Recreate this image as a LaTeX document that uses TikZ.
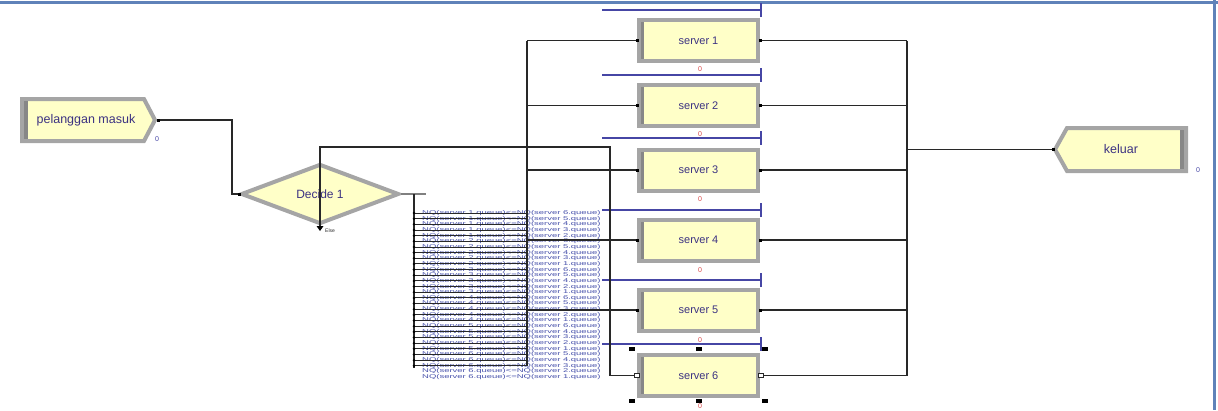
\documentclass[tikz,border=0pt]{standalone}
\usepackage{fontspec}
\setmainfont{Liberation Sans}
\usepackage{graphicx}
\usetikzlibrary{shapes.geometric}
\definecolor{modfill}{RGB}{255,255,200}
\definecolor{modgray}{RGB}{165,165,165}
\definecolor{modband}{RGB}{135,135,135}
\definecolor{txtblue}{RGB}{60,50,130}
\definecolor{qblue}{RGB}{70,70,165}
\definecolor{frameblue}{RGB}{95,130,185}
\definecolor{condblue}{RGB}{70,80,170}
\definecolor{redcnt}{RGB}{215,70,70}
\definecolor{linec}{RGB}{40,40,40}
\begin{document}
\begin{tikzpicture}[x=1pt,y=-1pt,
  conn/.style={draw=linec,line width=1.1pt},
  modshape/.style={draw=modgray,fill=modfill,line width=4pt},
  server/.style={modshape,rectangle,minimum width=119pt,minimum height=41pt,inner sep=0pt,
    text=txtblue,font=\fontsize{11}{12}\selectfont,
    path picture={\fill[modband] (path picture bounding box.north west) rectangle ([xshift=5pt]path picture bounding box.south west);}},
  decide/.style={modshape,diamond,aspect=2.5,minimum width=158pt,minimum height=60pt,inner sep=0pt,
    text=txtblue,font=\fontsize{12}{13}\selectfont},
  modtext/.style={text=txtblue,font=\fontsize{12.5}{13}\selectfont,inner sep=0pt},
  qline/.style={draw=qblue,line width=1.1pt},
  bluecnt/.style={text=qblue,font=\fontsize{7}{7}\selectfont,inner sep=0pt},
  redcount/.style={text=redcnt,font=\fontsize{7}{7}\selectfont,inner sep=0pt},
  cond/.style={text=condblue,font=\fontsize{5.5}{5.5}\selectfont,inner sep=0pt,anchor=west},
  handle/.style={fill=black}
]
\useasboundingbox (0,0) rectangle (1218,410);
% frame
\draw[frameblue,line width=3pt] (0,2.5) -- (1218,2.5);
\draw[frameblue,line width=3pt] (1214.5,0) -- (1214.5,410);

% create module
\filldraw[modshape,line join=miter] (22,99) -- (144,99) -- (155,120) -- (144,141) -- (22,141) -- cycle;
\fill[modband] (24,101) rectangle (28,139);
\node[modtext] (cre) at (86,120) {pelanggan masuk};
\coordinate (creout) at (158,120);
\node[bluecnt] (crecnt) at (157,139) {0};

% dispose module
\filldraw[modshape,line join=miter] (1055,149.5) -- (1067,128) -- (1186,128) -- (1186,171) -- (1067,171) -- cycle;
\fill[modband] (1180,130) rectangle (1184,169);
\node[modtext] (dis) at (1121,149.5) {keluar};
\coordinate (disin) at (1053,149.5);
\node[bluecnt] (discnt) at (1198,170) {0};

% decide
\node[decide] (dec) at (320,194) {Decide 1};
\node[font=\fontsize{5}{5}\selectfont,text=linec,inner sep=0pt,anchor=west] (else) at (325,231) {Else};

% servers
\node[server] (s1) at (698.5,40.5) {server 1};
\node[server] (s2) at (698.5,105.5) {server 2};
\node[server] (s3) at (698.5,170) {server 3};
\node[server] (s4) at (698.5,240) {server 4};
\node[server] (s5) at (698.5,310) {server 5};
\node[server] (s6) at (698.5,375.5) {server 6};

% queues
\foreach \q in {10,75,138,210,280,344}{
  \draw[qline] (602,\q) -- (761,\q);
  \draw[qline] (761,\q-7) -- (761,\q+7);
}
% busy counters
\foreach \r/\n in {69/a,134/b,199/c,270/d,340/e}{
  \node[redcount] (cnt\n) at (700,\r) {0};
}

% bus coordinates
\coordinate (nwbus) at (414,0);
\coordinate (bus) at (527,0);
\coordinate (outbus) at (907,0);

% create -> decide
\draw[conn] (creout) -- (232,120) |- (dec.west);
\fill[black] ([shift={(-1.5,-1.5)}]creout) rectangle +(3,3);
\fill[black] ([shift={(-1.5,-1.5)}]dec.west) rectangle +(3,3);

% else -> server 6
\draw[conn] (dec.south) -- (dec.south |- 0,147) -- (610,147) |- (s6.west);
\fill[black] (dec.south) ++(-3.5,0) -- ++(7,0) -- ++(-3.5,5) -- cycle;

% conditions
\draw[conn,draw=gray] (dec.east) -- (426,194);
\draw[conn] (414,194) -- (414,368);
\foreach \i/\j [count=\k from 0] in {1/6,1/5,1/4,1/3,1/2,2/6,2/5,2/4,2/3,2/1,3/6,3/5,3/4,3/2,3/1,4/6,4/5,4/3,4/2,4/1,5/6,5/4,5/3,5/2,5/1,6/5,6/4,6/3,6/2,6/1}{
  \pgfmathsetmacro\yy{213+5.66*\k}
  \node[cond] (cond\k) at (422,\yy) {\scalebox{1.72}[1]{NQ(server \i.queue)<=NQ(server \j.queue)}};
}
\foreach \k in {0,...,27}{
  \draw[conn,line width=0.9pt] (cond\k.west -| nwbus) -- (cond\k.west -| bus);
  \fill[black] (cond\k.west -| nwbus) circle (1.4);
}
\draw[conn] (s1.west -| bus) -- (bus |- cond27.west);
\foreach \s in {s1,s2,s3,s4,s5}{
  \draw[conn] (\s.west -| bus) -- (\s.west);
  \fill[black] ([shift={(-1.5,-1.5)}]\s.west) rectangle +(3,3);
}

% outputs
\draw[conn] (s1.east -| outbus) -- (s6.east -| outbus);
\foreach \s in {s1,s2,s3,s4,s5,s6}{
  \draw[conn] (\s.east) -- (\s.east -| outbus);
}
\foreach \s in {s1,s2,s3,s4,s5}{
  \fill[black] ([shift={(-1.5,-1.5)}]\s.east) rectangle +(3,3);
}
\draw[conn] (disin -| outbus) -- (disin);
\fill[black] ([shift={(-1.5,-1.5)}]disin) rectangle +(3,3);

% server 6 selected: open connection points and handles
\filldraw[fill=white,draw=linec,line width=0.8pt] ([shift={(-3,-2)}]s6.west) rectangle +(5,4);
\filldraw[fill=white,draw=linec,line width=0.8pt] ([shift={(-2,-2)}]s6.east) rectangle +(5,4);
\foreach \hx in {632,699,765}{
  \foreach \hy in {349,401}{
    \fill[handle] (\hx-3,\hy-2) rectangle (\hx+3,\hy+2);
  }
}
\node[redcount] (cntf) at (700,406) {0};
\end{tikzpicture}
\end{document}
